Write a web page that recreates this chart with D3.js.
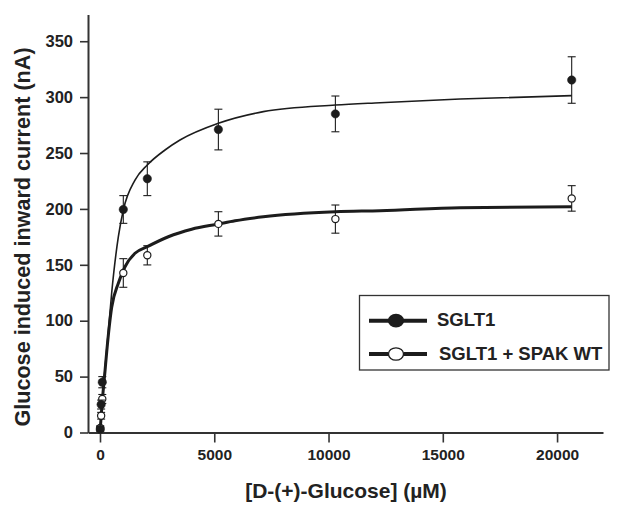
<!DOCTYPE html>
<html>
<head>
<meta charset="utf-8">
<script src="https://cdn.jsdelivr.net/npm/d3@7"></script>
<style>
  html, body { margin: 0; padding: 0; background: #fff; }
  svg { display: block; font-family: "Liberation Sans", Arial, Helvetica, sans-serif; }
</style>
</head>
<body>
<svg id="chart" width="619" height="505"></svg>
<script>
// ---- data ----
const seriesNames = ["SGLT1", "SGLT1 + SPAK WT"];
const concX = [10, 50, 100, 1020, 2070, 5180, 10300, 20640];
const sgltY = [3, 25, 45, 199.5, 227, 271, 285, 315.3];
const sgltErr = [2, 4, 5, 12.4, 15.1, 18.2, 16, 20.8];
const spakY = [4, 15, 30, 142.7, 158.5, 186.6, 190.9, 209.4];
const spakErr = [2, 3, 4, 12.8, 8.6, 10.9, 12.6, 11.4];

const sgltCurveX = [0, 180, 363, 512, 802, 1021, 1532, 2070, 2845, 3500, 5180, 7146, 10300, 12254, 15755, 20643];
const sgltCurveY = [0, 48, 90, 125, 175, 199, 225.8, 239.3, 252.7, 261.6, 276.6, 287, 292.9, 295, 298.3, 301.3];
const spakCurveX = [0, 100, 219, 293, 512, 802, 1094, 1532, 2070, 2990, 4011, 5180, 5908, 7146, 10300, 12254, 15755, 20643];
const spakCurveY = [0, 28, 55, 72, 112, 133.5, 148.3, 160.3, 166.2, 175.1, 181.8, 186.5, 189.4, 193, 197.5, 198.4, 201.1, 202];

const xTicks = [0, 5000, 10000, 15000, 20000];
const yTicks = [0, 50, 100, 150, 200, 250, 300, 350];
const xTitle = "[D-(+)-Glucose] (\u00B5M)";
const yTitle = "Glucose induced inward current (nA)";

// ---- drawing ----
const svg = d3.select("#chart");
const ink = "#1c1c1c";
const axisCol = "#333";

const x = d3.scaleLinear().domain([-525, 22010]).range([88, 603]);
const y = d3.scaleLinear().domain([0, 374]).range([432.5, 14.4]);

// axes
const gx = svg.append("g").attr("transform", `translate(0,${y(0)})`)
  .call(d3.axisBottom(x).tickValues(xTicks).tickSizeOuter(0).tickSizeInner(10).tickPadding(6).tickFormat(d3.format("d")));
gx.select(".domain").attr("stroke", axisCol).attr("stroke-width", 2);
gx.selectAll(".tick line").attr("stroke", axisCol).attr("stroke-width", 1.6);
gx.selectAll(".tick text").attr("fill", "#222").attr("font-size", "15.5px").attr("font-weight", "bold");

const gy = svg.append("g").attr("transform", `translate(${x(-525)},0)`)
  .call(d3.axisLeft(y).tickValues(yTicks).tickSizeOuter(0).tickSizeInner(8).tickPadding(7));
gy.select(".domain").attr("stroke", axisCol).attr("stroke-width", 2);
gy.selectAll(".tick line").attr("stroke", axisCol).attr("stroke-width", 1.6);
gy.selectAll(".tick text").attr("fill", "#222").attr("font-size", "16.5px").attr("font-weight", "bold");

// axis titles
svg.append("text").attr("x", 346).attr("y", 498).attr("text-anchor", "middle")
  .attr("font-size", "21px").attr("font-weight", "bold").attr("fill", "#222").text(xTitle);
svg.append("text").attr("transform", "translate(29.5,237) rotate(-90)").attr("text-anchor", "middle")
  .attr("font-size", "21.6px").attr("font-weight", "bold").attr("fill", "#222").text(yTitle);

// curves
const line = d3.line().x(d => x(d[0])).y(d => y(d[1])).curve(d3.curveMonotoneX);
svg.append("path").datum(sgltCurveX.map((v, i) => [v, sgltCurveY[i]]))
  .attr("d", line).attr("fill", "none").attr("stroke", ink).attr("stroke-width", 1.6);
svg.append("path").datum(spakCurveX.map((v, i) => [v, spakCurveY[i]]))
  .attr("d", line).attr("fill", "none").attr("stroke", ink).attr("stroke-width", 3);

// error bars + points
function drawSeries(vals, errs, filled) {
  const g = svg.append("g");
  concX.forEach((cx, i) => {
    const px = x(cx), top = y(vals[i] + errs[i]), bot = y(vals[i] - errs[i]);
    g.append("line").attr("x1", px).attr("x2", px).attr("y1", top).attr("y2", bot)
      .attr("stroke", ink).attr("stroke-width", 1.1);
    [top, bot].forEach(yy => g.append("line").attr("x1", px - 4).attr("x2", px + 4)
      .attr("y1", yy).attr("y2", yy).attr("stroke", ink).attr("stroke-width", 1.1));
  });
  concX.forEach((cx, i) => {
    g.append("circle").attr("cx", x(cx)).attr("cy", y(vals[i]))
      .attr("r", filled ? 4.2 : 3.6)
      .attr("fill", filled ? ink : "#fff")
      .attr("stroke", ink).attr("stroke-width", filled ? 0.5 : 1.2);
  });
}
drawSeries(spakY, spakErr, false);
drawSeries(sgltY, sgltErr, true);

// legend
const lg = svg.append("g");
lg.append("rect").attr("x", 359.5).attr("y", 295.5).attr("width", 249.5).attr("height", 74.5)
  .attr("fill", "#fff").attr("stroke", "#333").attr("stroke-width", 1.3);
const legRows = [{ y: 320.7, filled: true, ty: 325.5, tx: 437 }, { y: 354, filled: false, ty: 359.5, tx: 439 }];
legRows.forEach((r, i) => {
  lg.append("line").attr("x1", 369).attr("x2", 427).attr("y1", r.y).attr("y2", r.y)
    .attr("stroke", ink).attr("stroke-width", 4);
  lg.append("ellipse").attr("cx", 396).attr("cy", r.y).attr("rx", 7.5).attr("ry", 6.2)
    .attr("fill", r.filled ? ink : "#fff").attr("stroke", ink).attr("stroke-width", 1.3);
  lg.append("text").attr("x", r.tx).attr("y", r.ty).attr("font-size", "18.5px")
    .attr("font-weight", "bold").attr("fill", "#222").text(seriesNames[i]);
});
</script>
</body>
</html>
